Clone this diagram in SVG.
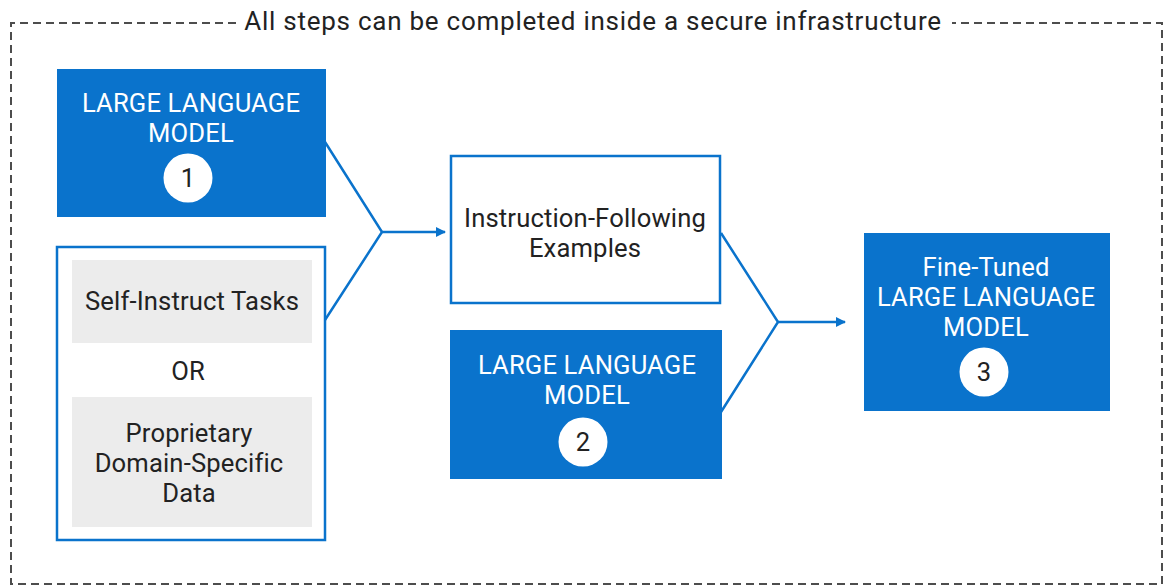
<svg xmlns="http://www.w3.org/2000/svg" width="1164" height="586" viewBox="0 0 1164 586">
<style>
.t{font-family:Roboto,"Liberation Sans",sans-serif;font-size:25.6px;text-anchor:middle;letter-spacing:0.15px;}
.title{font-size:26px;letter-spacing:0.75px;}
.w{fill:#ffffff;}
.k{fill:#222222;}
.blue{fill:#0a73cc;}
.outline{fill:#ffffff;stroke:#0a73cc;stroke-width:2.5;}
.gray{fill:#ececec;}
.num{fill:#ffffff;}
.conn{fill:none;stroke:#0a73cc;stroke-width:2.5;}
.border{fill:none;stroke:#4d4d4d;stroke-width:2;stroke-dasharray:8 5;}
</style>
<defs>
<marker id="arr" markerWidth="10" markerHeight="10" refX="9" refY="5" orient="auto" markerUnits="userSpaceOnUse">
<path d="M0,0 L10,5 L0,10 z" fill="#0a73cc"/>
</marker>
</defs>
<g id="frame">
<path class="border" d="M236,23 H11 V584 H1162 V23 H952"/>
<text class="t title k" x="593" y="30">All steps can be completed inside a secure infrastructure</text>
</g>
<g id="connectors">
<polyline class="conn" points="325,142 382,232 325,320"/>
<line class="conn" x1="382" y1="232" x2="445" y2="232" marker-end="url(#arr)"/>
<polyline class="conn" points="721,233 778,322 721,412"/>
<line class="conn" x1="778" y1="322" x2="845" y2="322" marker-end="url(#arr)"/>
</g>
<g id="llm1">
<rect class="blue" x="57" y="69" width="269" height="148"/>
<text class="t w" x="191" y="112">LARGE LANGUAGE</text>
<text class="t w" x="191" y="142">MODEL</text>
<circle class="num" cx="188" cy="178" r="24.5"/>
<text class="t k" x="188" y="187">1</text>
</g>
<g id="data">
<rect class="outline" x="57" y="247" width="268" height="293"/>
<rect class="gray" x="72" y="260" width="240" height="83"/>
<text class="t k" x="192" y="310">Self-Instruct Tasks</text>
<text class="t k" x="188" y="380">OR</text>
<rect class="gray" x="72" y="397" width="240" height="130"/>
<text class="t k" x="189" y="442">Proprietary</text>
<text class="t k" x="189" y="472">Domain-Specific</text>
<text class="t k" x="189" y="502">Data</text>
</g>
<g id="examples">
<rect class="outline" x="451" y="156" width="269" height="147"/>
<text class="t k" x="585" y="227">Instruction-Following</text>
<text class="t k" x="585" y="257">Examples</text>
</g>
<g id="llm2">
<rect class="blue" x="450" y="330" width="272" height="149"/>
<text class="t w" x="587" y="374">LARGE LANGUAGE</text>
<text class="t w" x="587" y="404">MODEL</text>
<circle class="num" cx="583" cy="442" r="24.5"/>
<text class="t k" x="583" y="451">2</text>
</g>
<g id="llm3">
<rect class="blue" x="864" y="233" width="246" height="178"/>
<text class="t w" x="986" y="276">Fine-Tuned</text>
<text class="t w" x="986" y="306">LARGE LANGUAGE</text>
<text class="t w" x="986" y="336">MODEL</text>
<circle class="num" cx="984" cy="372" r="24.5"/>
<text class="t k" x="984" y="381">3</text>
</g>
</svg>
